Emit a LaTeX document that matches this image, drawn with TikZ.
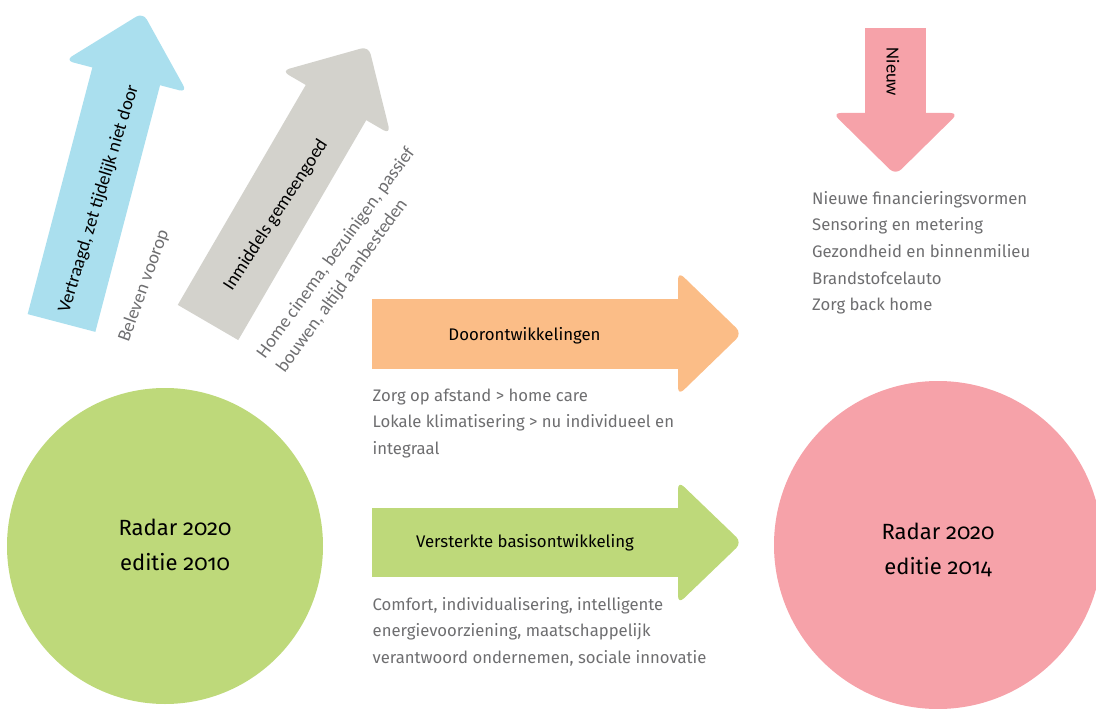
\documentclass[tikz,border=0pt]{standalone}
\usepackage{fontspec}
\setmainfont{Fira Sans}
\newfontfamily\radarfont[Numbers=OldStyle]{Fira Sans}
\newfontfamily\calib{Carlito}
\definecolor{cblue}{RGB}{170,223,238}
\definecolor{cgray}{RGB}{211,210,204}
\definecolor{corange}{RGB}{251,189,135}
\definecolor{cgreen}{RGB}{190,217,122}
\definecolor{cpink}{RGB}{246,162,169}
\definecolor{txtgray}{RGB}{110,110,112}
\newcommand\fatarrow[8]{%
  \begin{scope}[shift={(#1,#2)}, rotate=#3]
    \fill[#8] (0,-#5) rectangle ({#4+1},#5);
    \fill[#8, rounded corners=8pt] (#4,-#7) -- ({#4+#6},0) -- (#4,#7) -- cycle;
  \end{scope}}
\tikzset{
  listtext/.style={font=\fontsize{16.7}{18}\selectfont, text=txtgray, inner sep=0pt, anchor=base west},
  arrowlabel/.style={font=\fontsize{16.8}{18}\selectfont, text=black, inner sep=0pt},
  radartext/.style={font=\radarfont\fontsize{22}{35}\selectfont, text=black, inner sep=0pt, align=center},
  rotlabel/.style={font=\calib\fontsize{18.5}{22}\selectfont, text=black, inner sep=0pt},
  rotgray/.style={font=\calib\fontsize{18.5}{24.5}\selectfont, text=txtgray, inner sep=0pt},
}
\begin{document}
\begin{tikzpicture}[x=1pt,y=-1pt]
\useasboundingbox (0,0) rectangle (1096,709);
\clip (0,0) rectangle (1096,709);
% circles
\fill[cgreen] (165,546) circle[radius=158];
\fill[cpink] (938,545) circle[radius=164];
% arrows
\fatarrow{61.5}{323}{75.3}{255}{35}{66}{63}{cblue}
\fatarrow{208}{322.5}{59.8}{254.5}{35}{65}{63}{cgray}
\fatarrow{372}{333.5}{0}{306}{35}{64}{62}{corange}
\fatarrow{372}{542.5}{0}{306}{34.5}{64}{61.5}{cgreen}
\fatarrow{895.5}{28}{-90}{85}{30.5}{62}{63}{cpink}
% circle texts
\node[radartext] (r2010) at (175,545) {Radar 2020\\editie 2010};
\node[radartext] (r2014) at (938,550) {Radar 2020\\editie 2014};
% arrow labels
\node[arrowlabel] (door) at (524.5,336) {Doorontwikkelingen};
\node[arrowlabel] (vers) at (525,543) {Versterkte basisontwikkeling};
\node[rotlabel, rotate=73] (vertr) at (99,199) {Vertraagd, zet tijdelijk niet door};
\node[rotgray, rotate=70] (bel) at (144,286) {Beleven voorop};
\node[rotlabel, rotate=57] (inm) at (276,215) {Inmiddels gemeengoed};
\node[rotgray, rotate=54, align=left, anchor=north west] (home) at (254.5,351.5)
  {Home cinema, bezuinigen, passief\\bouwen, altijd aanbesteden};
\node[rotlabel, rotate=-90] (nieuw) at (893,72) {Nieuw};
% lists
\node[listtext] (o1) at (372.5,401) {Zorg op afstand > home care};
\node[listtext] (o2) at (372.5,427.7) {Lokale klimatisering > nu individueel en};
\node[listtext] (o3) at (372.5,454.4) {integraal};
\node[listtext] (g1) at (372.5,610) {Comfort, individualisering, intelligente};
\node[listtext] (g2) at (372.5,636.8) {energievoorziening, maatschappelijk};
\node[listtext] (g3) at (372.5,663.6) {verantwoord ondernemen, sociale innovatie};
\node[listtext] (n1) at (812,204) {Nieuwe financieringsvormen};
\node[listtext] (n2) at (812,230.7) {Sensoring en metering};
\node[listtext] (n3) at (812,257.4) {Gezondheid en binnenmilieu};
\node[listtext] (n4) at (812,284.1) {Brandstofcelauto};
\node[listtext] (n5) at (812,310.8) {Zorg back home};
\end{tikzpicture}
\end{document}
